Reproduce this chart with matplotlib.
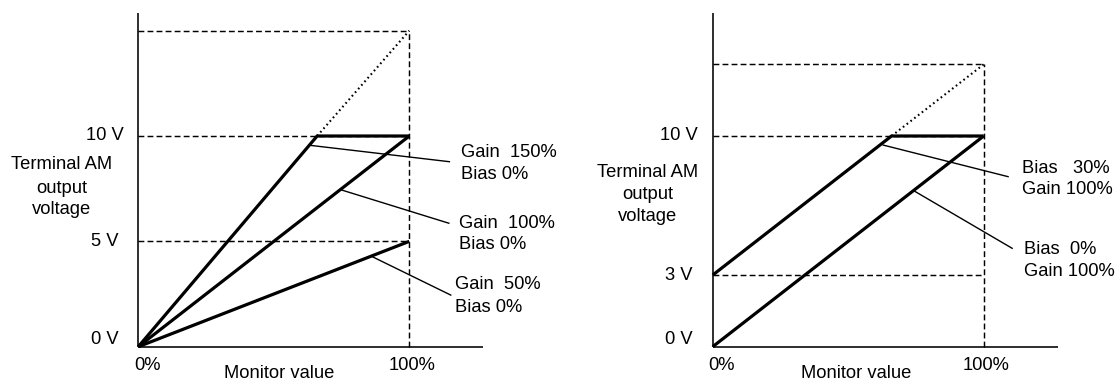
import matplotlib
matplotlib.use("Agg")
import matplotlib.pyplot as plt

plt.rcParams['font.family'] = ['Liberation Sans', 'DejaVu Sans']

# ---------------- data (monitor value in %, voltage in V) ----------------
# Left panel: gain adjustment
gain150_x = [0, 66, 100]
gain150_y = [0, 10, 10]
gain150_clip_x = [66, 100]          # dotted continuation beyond 10 V
gain150_clip_y = [10, 15]
gain100_x = [0, 100]
gain100_y = [0, 10]
gain50_x = [0, 100]
gain50_y = [0, 5]
left_levels = [15, 10, 5]           # dashed guide levels
left_top = 15
left_yticks = [0.35, 5, 10]
left_yticklabels = ['0 V', '5 V', '10 V']

# Right panel: bias adjustment
bias30_x = [0, 66, 100]
bias30_y = [3.4, 10, 10]
bias30_clip_x = [66, 100]
bias30_clip_y = [10, 13.4]
bias0_x = [0, 100]
bias0_y = [0, 10]
right_levels = [13.4, 10, 3.4]
right_top = 13.4
right_yticks = [0.35, 3.4, 10]
right_yticklabels = ['0 V', '3 V', '10 V']

xtick_labels = ['0%', '100%']
xlabel = 'Monitor value'
ylabel_lines = ['Terminal AM', 'output', 'voltage']

# annotations: (line start x, y), (line end x, y), text lines, text x, text ys
left_notes = [
    ((63.2, 9.56), (114.8, 8.78), ['Gain  150%', 'Bias 0%'], 119.0, [9.2, 8.15]),
    ((74.7, 7.45), (114.6, 5.86), ['Gain  100%', 'Bias 0%'], 118.5, [5.86, 4.83]),
    ((85.9, 4.30), (115.3, 2.45), ['Gain  50%', 'Bias 0%'], 117.0, [2.93, 1.87]),
]
right_notes = [
    ((62.9, 9.57), (109.0, 8.07), ['Bias   30%', 'Gain 100%'], 114.0, [8.47, 7.47]),
    ((74.1, 7.41), (110.5, 4.67), ['Bias  0%', 'Gain 100%'], 115.0, [4.59, 3.56]),
]

FS = 13.2
W, H = 1120, 381
fig = plt.figure(figsize=(W / 100, H / 100), dpi=100)


def make_axes(px_left, px_axis0):
    ax = fig.add_axes([px_left / W, 0, 560 / W, 1])
    xs = 2.71          # px per percent
    ys = 21.07         # px per volt
    y0 = 346.7         # px from top of 0 V
    ax.set_xlim((px_left - px_axis0) / xs, (px_left + 560 - px_axis0) / xs)
    ax.set_ylim((y0 - H) / ys, y0 / ys)
    ax.axis('off')
    return ax


def draw_panel(ax, series, clip, levels, top, yticks, yticklabels, notes,
               ylab_x, ylab_ys, tick_x, xlab_x):
    lw_axis = 1.15
    ax.plot([0, 0], [0, 15.85], color='black', lw=lw_axis, solid_capstyle='butt')
    ax.plot([0, 127.3], [0, 0], color='black', lw=lw_axis, solid_capstyle='butt')
    dash = (0, (4.0, 2.2))
    for lv in levels:
        ax.plot([0, 100], [lv, lv], color='black', lw=1.05, linestyle=dash)
    ax.plot([100, 100], [0, top], color='black', lw=1.05, linestyle=dash)
    ax.plot(clip[0], clip[1], color='black', lw=1.5, linestyle=(0, (0.8, 1.5)))
    for sx, sy in series:
        ax.plot(sx, sy, color='black', lw=2.3, solid_joinstyle='miter',
                solid_capstyle='butt')
    for (p0, p1, lines, tx, tys) in notes:
        ax.plot([p0[0], p1[0]], [p0[1], p1[1]], color='black', lw=1.0)
        for t, ty in zip(lines, tys):
            ax.text(tx, ty, t, ha='left', va='center', fontsize=FS)
    for yv, lab in zip(yticks, yticklabels):
        ax.text(tick_x, yv, lab, ha='center', va='center', fontsize=FS)
    for t, ty in zip(ylabel_lines, ylab_ys):
        ax.text(ylab_x, ty, t, ha='center', va='center', fontsize=FS)
    ax.text(3.3, -0.87, xtick_labels[0], ha='center', va='center', fontsize=FS)
    ax.text(101.0, -0.87, xtick_labels[1], ha='center', va='center', fontsize=FS)
    ax.text(xlab_x, -1.28, xlabel, ha='center', va='center', fontsize=FS)


axL = make_axes(0, 138.3)
draw_panel(axL,
           [(gain150_x, gain150_y), (gain100_x, gain100_y), (gain50_x, gain50_y)],
           (gain150_clip_x, gain150_clip_y), left_levels, left_top,
           left_yticks, left_yticklabels, left_notes,
           -28.3, [8.63, 7.52, 6.49], -12.3, 52.0)

axR = make_axes(560, 712.7)
draw_panel(axR,
           [(bias30_x, bias30_y), (bias0_x, bias0_y)],
           (bias30_clip_x, bias30_clip_y), right_levels, right_top,
           right_yticks, right_yticklabels, right_notes,
           -23.9, [8.26, 7.2, 6.17], -12.6, 53.0)

fig.savefig('out.png', dpi=100)
